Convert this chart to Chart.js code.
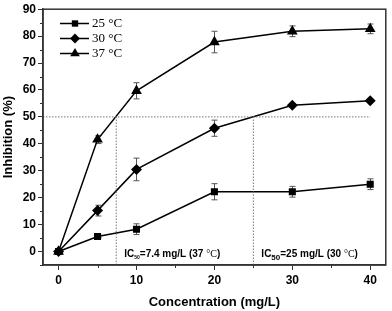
<!DOCTYPE html>
<html>
<head>
<meta charset="utf-8">
<script src="https://cdn.jsdelivr.net/npm/chart.js@4.4.0/dist/chart.umd.min.js"></script>
<style>
html,body{margin:0;padding:0;background:#fff;}
canvas{display:block;}
</style>
</head>
<body>
<canvas id="c" width="392" height="311"></canvas>
<script>
// ---- data ----
const concentrations = [0, 5, 10, 20, 30, 40];
const inhibition25 = [0, 5.6, 8.3, 22.2, 22.2, 25.0];
const error25      = [0.5, 0.5, 2.0, 3.0, 2.0, 2.0];
const inhibition30 = [0, 15.2, 30.5, 45.8, 54.3, 56.0];
const error30      = [0.5, 2.0, 4.2, 3.0, 0.4, 0.4];
const inhibition37 = [0, 41.6, 59.7, 77.8, 81.8, 82.7];
const error37      = [0.5, 1.5, 3.0, 4.0, 2.0, 1.8];
const seriesLabels = ['25 °C', '30 °C', '37 °C'];
const xTickValues = [0, 10, 20, 30, 40];
const yTickValues = [0, 10, 20, 30, 40, 50, 60, 70, 80, 90];
const xMinorTicks = [5, 15, 25, 35];
const yMinorTicks = [-5, 5, 15, 25, 35, 45, 55, 65, 75, 85];
const halfLine   = [{x: -2, y: 50}, {x: 40, y: 50}];
const ic50Line37 = [{x: 7.4, y: -5}, {x: 7.4, y: 50}];
const ic50Line30 = [{x: 25, y: -5}, {x: 25, y: 50}];

const pts = (ys) => concentrations.map((x, i) => ({x: x, y: ys[i]}));

const lineStyle = {borderColor: '#000', backgroundColor: '#000', borderWidth: 1.5,
  pointBorderColor: '#000', pointBackgroundColor: '#000', pointBorderWidth: 0, tension: 0};
const dashStyle = {borderColor: '#777', borderWidth: 1, borderDash: [1.5, 1.5], pointRadius: 0, tension: 0};

const seriesDefs = [
  {ys: inhibition25, err: error25, style: 'rect', radius: 5},
  {ys: inhibition30, err: error30, style: 'rectRot', radius: 5.5},
  {ys: inhibition37, err: error37, style: 'triangle', radius: 6.2}
];

const errorBarPlugin = {
  id: 'errorBars',
  beforeDatasetsDraw(chart) {
    const ctx = chart.ctx, xs = chart.scales.x, ys = chart.scales.y;
    ctx.save();
    ctx.strokeStyle = '#555';
    ctx.lineWidth = 1;
    seriesDefs.forEach(s => {
      concentrations.forEach((cx, i) => {
        const px = Math.round(xs.getPixelForValue(cx)) + 0.5;
        const top = ys.getPixelForValue(s.ys[i] + s.err[i]);
        const bot = ys.getPixelForValue(s.ys[i] - s.err[i]);
        ctx.beginPath();
        ctx.moveTo(px, top); ctx.lineTo(px, bot);
        ctx.moveTo(px - 3, top); ctx.lineTo(px + 3, top);
        ctx.moveTo(px - 3, bot); ctx.lineTo(px + 3, bot);
        ctx.stroke();
      });
    });
    ctx.restore();
  }
};

const framePlugin = {
  id: 'frame',
  afterDraw(chart) {
    const ctx = chart.ctx, a = chart.chartArea, xs = chart.scales.x, ys = chart.scales.y;
    ctx.save();
    ctx.strokeStyle = '#333';
    ctx.lineWidth = 1.5;
    ctx.strokeRect(a.left, a.top, a.right - a.left, a.bottom - a.top);
    ctx.lineWidth = 1;
    ctx.beginPath();
    xMinorTicks.forEach(v => {
      const px = Math.round(xs.getPixelForValue(v)) + 0.5;
      ctx.moveTo(px, a.bottom); ctx.lineTo(px, a.bottom + 3);
    });
    yMinorTicks.forEach(v => {
      const py = Math.round(ys.getPixelForValue(v)) + 0.5;
      ctx.moveTo(a.left, py); ctx.lineTo(a.left - 3, py);
    });
    ctx.stroke();

    // legend
    const rows = [23.5, 38.5, 53.5];
    seriesDefs.forEach((s, i) => {
      const y = rows[i];
      ctx.strokeStyle = '#000';
      ctx.lineWidth = 1.5;
      ctx.beginPath(); ctx.moveTo(60, y); ctx.lineTo(89, y); ctx.stroke();
      ctx.fillStyle = '#000';
      Chart.helpers.drawPoint(ctx, {pointStyle: s.style, radius: s.radius * 0.9, rotation: 0, borderWidth: 0}, 75, y);
      ctx.fillStyle = '#000';
      ctx.font = '13px "Liberation Serif", "Times New Roman", serif';
      ctx.textBaseline = 'middle';
      ctx.textAlign = 'left';
      ctx.fillText(seriesLabels[i], 92, y + 0.5);
    });

    // IC50 annotations
    const drawIC = (x, y, sub, subSize, subDy, rest, temp) => {
      ctx.textBaseline = 'alphabetic';
      ctx.fillStyle = '#000';
      const bold = '10px "Liberation Sans", Arial, sans-serif';
      ctx.font = 'bold ' + bold;
      ctx.fillText('IC', x, y); x += ctx.measureText('IC').width;
      ctx.font = 'bold ' + subSize + 'px "Liberation Sans", Arial, sans-serif';
      ctx.fillText(sub, x, y + subDy); x += ctx.measureText(sub).width;
      ctx.font = 'bold ' + bold;
      ctx.fillText(rest, x, y); x += ctx.measureText(rest).width;
      ctx.font = '10px "Liberation Serif", "Times New Roman", serif';
      ctx.fillText('°C', x, y); x += ctx.measureText('°C').width;
      ctx.font = 'bold ' + bold;
      ctx.fillText(')', x, y);
    };
    drawIC(xs.getPixelForValue(7.4) + 8, 256.5, '50', 5, 2, '=7.4 mg/L (37 ', '');
    drawIC(xs.getPixelForValue(25) + 8, 256.5, '50', 8, 3, '=25 mg/L (30 ', '');
    ctx.restore();
  }
};

new Chart(document.getElementById('c'), {
  type: 'line',
  data: {
    datasets: [
      Object.assign({label: 'half', data: halfLine}, dashStyle),
      Object.assign({label: 'ic37', data: ic50Line37}, dashStyle),
      Object.assign({label: 'ic30', data: ic50Line30}, dashStyle),
      ...seriesDefs.map((s, i) => Object.assign({label: seriesLabels[i], data: pts(s.ys),
        pointStyle: s.style, pointRadius: s.radius, pointHoverRadius: s.radius}, lineStyle))
    ]
  },
  options: {
    responsive: false,
    animation: false,
    devicePixelRatio: 1,
    layout: {padding: {left: 0, right: 2, top: 6, bottom: 0}},
    plugins: {legend: {display: false}, tooltip: {enabled: false}},
    scales: {
      x: {
        type: 'linear', min: -2, max: 42,
        afterBuildTicks: s => { s.ticks = xTickValues.map(v => ({value: v})); },
        afterFit: s => { s.height = 46; },
        grid: {drawOnChartArea: false, drawTicks: true, tickLength: 5, color: '#333', lineWidth: 1},
        border: {display: true, color: '#333', width: 1.5},
        ticks: {color: '#000', padding: 3, font: {family: '"Liberation Sans", Arial, sans-serif', size: 12, weight: 'bold'}},
        title: {display: true, text: 'Concentration (mg/L)', color: '#000', padding: {top: 0, bottom: 1},
          font: {family: '"Liberation Sans", Arial, sans-serif', size: 13, weight: 'bold'}}
      },
      y: {
        type: 'linear', min: -5, max: 90,
        afterBuildTicks: s => { s.ticks = yTickValues.map(v => ({value: v})); },
        afterFit: s => { s.width = 43; },
        grid: {drawOnChartArea: false, drawTicks: true, tickLength: 5, color: '#333', lineWidth: 1},
        border: {display: true, color: '#333', width: 1.5},
        ticks: {color: '#000', padding: 2, font: {family: '"Liberation Sans", Arial, sans-serif', size: 12, weight: 'bold'}},
        title: {display: true, text: 'Inhibition (%)', color: '#000', padding: {top: 1, bottom: 0},
          font: {family: '"Liberation Sans", Arial, sans-serif', size: 13, weight: 'bold'}}
      }
    }
  },
  plugins: [errorBarPlugin, framePlugin]
});
</script>
</body>
</html>
